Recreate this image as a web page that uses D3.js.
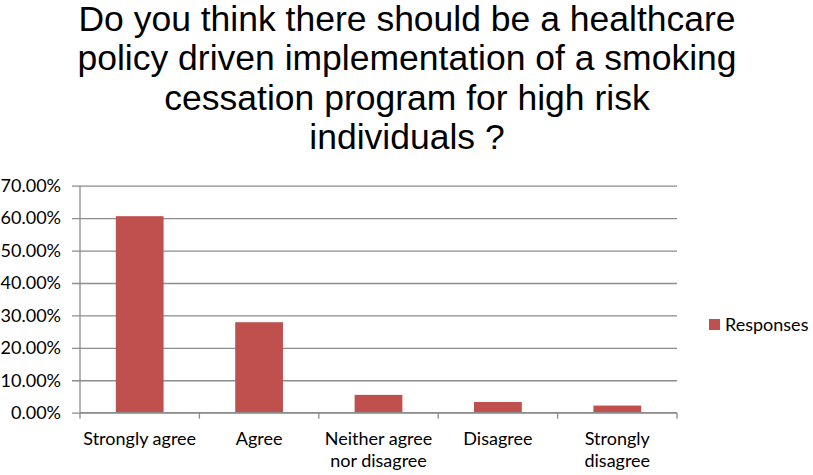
<!DOCTYPE html>
<html>
<head>
<meta charset="utf-8">
<script src="https://cdn.jsdelivr.net/npm/d3@7"></script>
<style>
  body { margin: 0; background: #fff; }
  svg { display: block; }
</style>
</head>
<body>
<main></main>
<script>
// chart data
const titleLines = [
  "Do you think there should be a healthcare",
  "policy driven implementation of a smoking",
  "cessation program for high risk",
  "individuals ?"
];
const categories = ["Strongly agree", "Agree", "Neither agree nor disagree", "Disagree", "Strongly disagree"];
const categoryLines = [["Strongly agree"], ["Agree"], ["Neither agree", "nor disagree"], ["Disagree"], ["Strongly", "disagree"]];
const responses = [0.606, 0.279, 0.055, 0.033, 0.022];
const yTicks = [0, 0.1, 0.2, 0.3, 0.4, 0.5, 0.6, 0.7];
const seriesName = "Responses";

const svgSize = { width: 813, height: 475 };
const plot = { left: 80, right: 677, top: 185.7, bottom: 412.7 };
const barColor = "#C0504D";
const gridColor = "#8c8c8c";
const labelFont = "Lato, 'Open Sans', sans-serif";

const svg = d3.select("main")
  .append("svg")
  .attr("width", svgSize.width)
  .attr("height", svgSize.height);

// title
svg.append("text")
   .attr("text-anchor", "middle")
   .attr("font-family", "'Liberation Sans', Arial, sans-serif")
   .attr("font-size", 35.5)
   .attr("fill", "#000")
   .selectAll("tspan")
   .data(titleLines)
   .join("tspan")
   .attr("x", 407)
   .attr("y", (d, i) => 31 + i * 39.4)
   .text(d => d);

const xScale = d3.scaleBand()
  .domain(categories)
  .range([plot.left, plot.right])
  .paddingInner(0.6)
  .paddingOuter(0.3);

const yScale = d3.scaleLinear()
  .domain([0, 0.7])
  .range([plot.bottom, plot.top]);

// gridlines + y axis
const yAxis = svg.append("g")
  .attr("transform", `translate(${plot.left},0)`)
  .call(d3.axisLeft(yScale)
    .tickValues(yTicks)
    .tickFormat(d3.format(".2%"))
    .tickSize(-(plot.right - plot.left))
    .tickPadding(19));
yAxis.select(".domain").remove();
yAxis.selectAll(".tick line")
  .attr("stroke", gridColor)
  .attr("x1", -8)
  .attr("stroke-width", 1.3);
yAxis.selectAll(".tick text")
  .attr("font-family", labelFont)
  .attr("font-size", 18)
  .attr("fill", "#000");

// left axis line
svg.append("line")
   .attr("x1", plot.left).attr("x2", plot.left)
   .attr("y1", plot.top).attr("y2", plot.bottom)
   .attr("stroke", gridColor)
   .attr("stroke-width", 1.3);

// bars
svg.selectAll("rect.bar")
  .data(responses)
  .join("rect")
  .attr("class", "bar")
  .attr("x", (d, i) => xScale(categories[i]))
  .attr("y", d => yScale(d))
  .attr("width", xScale.bandwidth())
  .attr("height", d => plot.bottom - yScale(d))
  .attr("fill", barColor);

// x axis: baseline and boundary ticks
const step = (plot.right - plot.left) / categories.length;
const xAxis = svg.append("g");
xAxis.append("line")
  .attr("x1", plot.left).attr("x2", plot.right)
  .attr("y1", plot.bottom).attr("y2", plot.bottom)
  .attr("stroke", gridColor)
  .attr("stroke-width", 1.3);
xAxis.selectAll("line.tk")
  .data(d3.range(categories.length + 1))
  .join("line")
  .attr("class", "tk")
  .attr("x1", i => plot.left + i * step)
  .attr("x2", i => plot.left + i * step)
  .attr("y1", plot.bottom)
  .attr("y2", plot.bottom + 6)
  .attr("stroke", gridColor)
  .attr("stroke-width", 1.3);

// category labels
xAxis.selectAll("text.cat")
  .data(categoryLines)
  .join("text")
  .attr("class", "cat")
  .attr("text-anchor", "middle")
  .attr("font-family", labelFont)
  .attr("font-size", 18)
  .attr("fill", "#000")
  .each(function (lines, i) {
    const cx = xScale(categories[i]) + xScale.bandwidth() / 2;
    d3.select(this).selectAll("tspan")
      .data(lines)
      .join("tspan")
      .attr("x", cx)
      .attr("y", (d, j) => 445 + j * 22)
      .text(d => d);
  });

// legend
const legend = svg.append("g").attr("transform", "translate(709,319)");
legend.append("rect")
  .attr("width", 11).attr("height", 11)
  .attr("fill", barColor);
legend.append("text")
  .attr("x", 16).attr("y", 11.5)
  .attr("font-family", labelFont)
  .attr("font-size", 18)
  .attr("fill", "#000")
  .text(seriesName);
</script>
</body>
</html>
